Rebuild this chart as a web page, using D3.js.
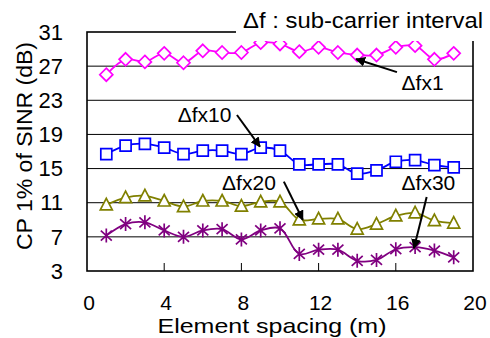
<!DOCTYPE html>
<html><head><meta charset="utf-8">
<script src="https://cdn.jsdelivr.net/npm/d3@7"></script>
<style>body{margin:0;background:#fff}svg{display:block}text{font-family:"Liberation Sans",Arial,sans-serif;fill:#000}</style>
</head><body><svg id="c" width="490" height="338"></svg>
<script>
const xs = [1,2,3,4,5,6,7,8,9,10,11,12,13,14,15,16,17,18,19];
const fx1  = [26.0,27.8,27.5,28.5,27.4,28.8,28.6,28.6,29.75,29.6,28.7,29.2,28.6,28.3,28.3,29.2,29.4,27.8,28.5];
const fx10 = [16.7,17.7,17.9,17.45,16.7,17.1,17.1,16.7,17.45,17.1,15.5,15.5,15.5,14.4,14.8,15.8,16.0,15.4,15.15];
const fx20 = [10.75,11.6,11.8,11.2,10.55,11.2,11.2,10.6,11.1,11.1,9.0,9.1,9.1,7.9,8.5,9.45,9.8,8.9,8.6];
const fx30 = [7.15,8.5,8.7,7.75,7.0,7.75,7.9,6.7,7.75,8.0,5.0,5.5,5.5,4.2,4.3,5.55,5.8,5.4,4.6];
const xTicks = [0,4,8,12,16,20];
const yTicks = [3,7,11,15,19,23,27,31];
const xTitle = "Element spacing (m)";
const yTitle = "CP 1% of SINR (dB)";
const note = "Δf : sub-carrier interval";
const labels = [
  {t:"Δfx1",  x:16.3, y:24.2, ax:[16.06,26.3], to:[13.94,27.84]},
  {t:"Δfx10", x:4.7,  y:20.4, ax:[7.77,21.28], to:[8.96,17.57]},
  {t:"Δfx20", x:7.0,  y:12.5, ax:[10.2,13.47], to:[11.18,9.0]},
  {t:"Δfx30", x:16.3, y:12.5, ax:[17.6,11.68], to:[16.94,5.67]}
];
const series = [
  {v:fx1,  c:"#ff00ff", m:"diamond"},
  {v:fx10, c:"#0000ff", m:"square"},
  {v:fx20, c:"#808000", m:"triangle"},
  {v:fx30, c:"#800080", m:"star"}
];

const L=87,R=473,T=32,B=271;
const svg=d3.select("#c");
const x=d3.scaleLinear().domain([0,20]).range([L,R]);
const y=d3.scaleLinear().domain([3,31]).range([B,T]);

function fit(w){return sel=>sel.attr("textLength",w).attr("lengthAdjust","spacingAndGlyphs");}
svg.append("defs").append("marker").attr("id","ah").attr("viewBox","0 0 10 10")
 .attr("refX",9).attr("refY",5).attr("markerWidth",5).attr("markerHeight",5).attr("orient","auto")
 .append("path").attr("d","M0,0L10,5L0,10z").attr("fill","#000");

// grid
svg.append("g").selectAll("line").data(yTicks.slice(1,-1)).join("line")
 .attr("x1",L).attr("x2",R).attr("y1",d=>y(d)).attr("y2",d=>y(d)).attr("stroke","#000").attr("stroke-width",1);
// x ticks inward
svg.append("g").selectAll("line").data(xTicks.slice(1,-1)).join("line")
 .attr("x1",d=>x(d)).attr("x2",d=>x(d)).attr("y1",B).attr("y2",B-8).attr("stroke","#000").attr("stroke-width",1);

const line=d3.line().x((d,i)=>x(xs[i])).y(d=>y(d)).curve(d3.curveCatmullRom.alpha(0.5));
const g=svg.append("g");
series.forEach(s=>{
  g.append("path").attr("d",line(s.v)).attr("fill","none").attr("stroke",s.c).attr("stroke-width",1.8);
  const mg=g.append("g");
  s.v.forEach((v,i)=>{
    const cx=x(xs[i]), cy=y(v);
    let p;
    if(s.m==="diamond") p=`M${cx},${cy-6.5}L${cx+6.5},${cy}L${cx},${cy+6.5}L${cx-6.5},${cy}Z`;
    else if(s.m==="square") p=`M${cx-5.5},${cy-5.5}h11v11h-11Z`;
    else if(s.m==="triangle") p=`M${cx},${cy-6.5}L${cx+6},${cy+5}L${cx-6},${cy+5}Z`;
    else p=`M${cx-5.5},${cy-5}L${cx+5.5},${cy+5}M${cx+5.5},${cy-5}L${cx-5.5},${cy+5}M${cx},${cy-7}V${cy+7}`;
    mg.append("path").attr("d",p).attr("fill",s.m==="star"?"none":"#fff").attr("stroke",s.c).attr("stroke-width",1.7);
  });
});
// frame
svg.append("rect").attr("x",L).attr("y",T).attr("width",R-L).attr("height",B-T).attr("fill","none").attr("stroke","#000").attr("stroke-width",1.6);
// note box
svg.append("rect").attr("x",236).attr("y",0).attr("width",254).attr("height",41).attr("fill","#fff");
svg.append("text").attr("x",243).attr("y",28).attr("font-size",22).text(note).call(fit(240));

// labels & arrows
labels.forEach(l=>{
  svg.append("text").attr("x",x(l.x)).attr("y",y(l.y)).attr("font-size",21).text(l.t);
  svg.append("line").attr("x1",x(l.ax[0])).attr("y1",y(l.ax[1])).attr("x2",x(l.to[0])).attr("y2",y(l.to[1]))
   .attr("stroke","#000").attr("stroke-width",2).attr("marker-end","url(#ah)");
});
// ticks labels
svg.append("g").selectAll("text").data(yTicks).join("text").attr("x",63).attr("y",d=>y(d)).attr("dy","0.35em")
 .attr("text-anchor","end").attr("font-size",22).text(d=>d);
svg.append("g").selectAll("text").data(xTicks).join("text").attr("x",d=>x(d)+2).attr("y",310)
 .attr("text-anchor","middle").attr("font-size",21).text(d=>d);
svg.append("text").attr("x",272).attr("y",333).attr("text-anchor","middle").attr("font-size",21).text(xTitle).call(fit(229));
svg.append("text").attr("transform","translate(32,146) rotate(-90)").attr("text-anchor","middle").attr("font-size",22).text(yTitle).call(fit(208));
</script></body></html>
